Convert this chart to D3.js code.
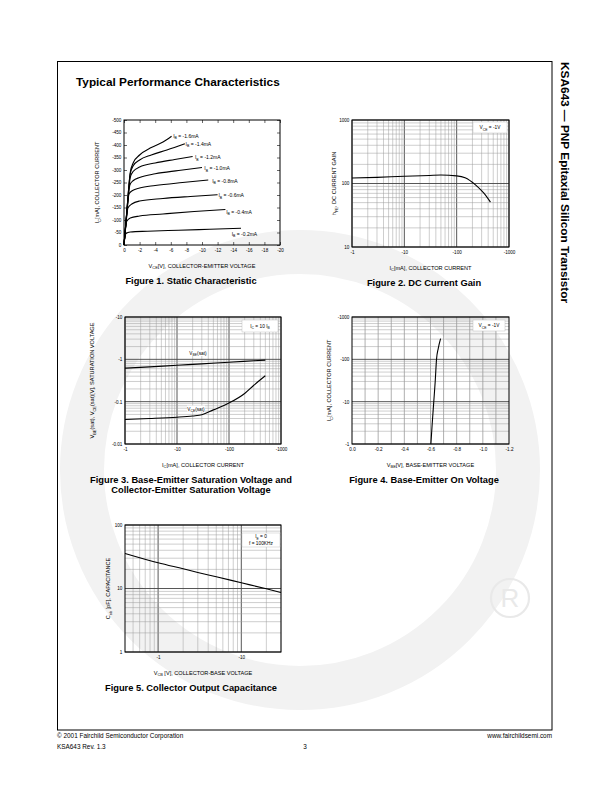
<!DOCTYPE html>
<html><head><meta charset="utf-8">
<script src="https://cdn.jsdelivr.net/npm/d3@7/dist/d3.min.js"></script>
<style>
html,body{margin:0;padding:0;background:#fff;}
svg{display:block;}
</style></head><body>
<svg id="page" width="612" height="792" xmlns="http://www.w3.org/2000/svg"></svg>
<script>
// ================= DATA =================
// Figure 1 - Static Characteristic
const fig1XTicks = [0,-2,-4,-6,-8,-10,-12,-14,-16,-18,-20];
const fig1XLabels = ["0","-2","-4","-6","-8","-10","-12","-14","-16","-18","-20"];
const fig1YTicks = [0,-50,-100,-150,-200,-250,-300,-350,-400,-450,-500];
const fig1YLabels = ["0","-50","-100","-150","-200","-250","-300","-350","-400","-450","-500"];
const fig1IB = ["-1.6","-1.4","-1.2","-1.0","-0.8","-0.6","-0.4","-0.2"];
const fig1Curve16 = [[0,0],[-0.4,-150],[-0.8,-290],[-1.2,-330],[-2,-360],[-3.5,-390],[-5,-412],[-6.1,-435]];
const fig1Curve14 = [[0,0],[-0.4,-150],[-0.8,-285],[-1.2,-318],[-2,-340],[-3.5,-360],[-5.5,-380],[-7.8,-405]];
const fig1Curve12 = [[0,0],[-0.4,-145],[-0.8,-270],[-1.2,-295],[-2,-312],[-4,-328],[-6.5,-342],[-8.8,-354]];
const fig1Curve10 = [[0,0],[-0.4,-140],[-0.75,-240],[-1.2,-258],[-2,-270],[-4,-285],[-7,-298],[-10,-310]];
const fig1Curve08 = [[0,0],[-0.35,-125],[-0.65,-205],[-1.1,-218],[-2,-228],[-4,-238],[-7.5,-250],[-10.8,-260]];
const fig1Curve06 = [[0,0],[-0.3,-100],[-0.5,-148],[-1,-164],[-2,-176],[-5,-186],[-8.5,-194],[-12,-201]];
const fig1Curve04 = [[0,0],[-0.2,-65],[-0.35,-95],[-0.8,-108],[-2,-116],[-5,-124],[-9,-134],[-13,-142]];
const fig1Curve02 = [[0,0],[-0.1,-28],[-0.25,-46],[-0.8,-52],[-3,-55],[-7,-59],[-11,-63],[-15,-67]];
const fig1LabelV = [-6.3,-7.9,-9.1,-10.3,-11.3,-12.1,-13.1,-13.8];
const fig1LabelI = [-437,-403,-350,-306,-257,-198,-131,-44];

// Figure 2 - DC Current Gain
const fig2XTicks = [-1,-10,-100,-1000];
const fig2XLabels = ["-1","-10","-100","-1000"];
const fig2YTicks = [10,100,1000];
const fig2YLabels = ["10","100","1000"];
const fig2IC  = [-1,-3,-10,-30,-50,-100,-145,-226,-328,-442];
const fig2HFE = [122,125,130,134,136,132,123,96,71,51];

// Figure 3 - Saturation voltages
const fig3XTicks = [-1,-10,-100,-1000];
const fig3XLabels = ["-1","-10","-100","-1000"];
const fig3YTicks = [-0.01,-0.1,-1,-10];
const fig3YLabels = ["-0.01","-0.1","-1","-10"];
const fig3ICbe = [-1,-3,-10,-30,-100,-300,-500];
const fig3VBE  = [-0.62,-0.665,-0.725,-0.78,-0.855,-0.925,-0.96];
const fig3ICce = [-1,-3,-10,-20,-30,-50,-100,-200,-300,-500];
const fig3VCE  = [-0.038,-0.040,-0.043,-0.046,-0.049,-0.064,-0.093,-0.156,-0.244,-0.41];

// Figure 4 - Base-Emitter On Voltage
const fig4XTicks = [0,-0.2,-0.4,-0.6,-0.8,-1.0,-1.2];
const fig4XLabels = ["0.0","-0.2","-0.4","-0.6","-0.8","-1.0","-1.2"];
const fig4XGrid = [-0.1,-0.2,-0.3,-0.4,-0.5,-0.6,-0.7,-0.8,-0.9,-1.0,-1.1];
const fig4YTicks = [-1,-10,-100,-1000];
const fig4YLabels = ["-1","-10","-100","-1000"];
const fig4VBE = [-0.603,-0.613,-0.625,-0.636,-0.646,-0.659,-0.677];
const fig4IC  = [-1,-3,-10,-30,-100,-180,-310];

// Figure 5 - Collector Output Capacitance
const fig5XTicks = [-1,-10];
const fig5XLabels = ["-1","-10"];
const fig5YTicks = [1,10,100];
const fig5YLabels = ["1","10","100"];
const fig5VCB = [-0.4,-1,-2,-3,-5,-10,-20,-30];
const fig5COB = [35.7,25.4,20.4,17.9,15.3,12.3,9.9,8.65];

// ================= DRAWING =================
const FONT = '"Liberation Sans", Arial, Helvetica, sans-serif';
const svg = d3.select("#page");

function richText(parent, x, y, str, o = {}) {
  const fs = o.size || 5.5;
  const t = parent.append("text").attr("x", x).attr("y", y)
    .attr("font-size", fs).attr("font-family", FONT)
    .attr("fill", o.fill || "#000")
    .attr("font-weight", o.weight || "normal")
    .attr("text-anchor", o.anchor || "start");
  if (o.rotate) t.attr("transform", `rotate(${o.rotate},${x},${y})`);
  const re = /_\{([^}]*)\}/g;
  let last = 0, m, pend = 0;
  const sh = fs * 0.28;
  while ((m = re.exec(str)) !== null) {
    if (m.index > last) { t.append("tspan").attr("dy", pend).text(str.slice(last, m.index)); pend = 0; }
    t.append("tspan").attr("dy", pend + sh).attr("font-size", fs * 0.7).text(m[1]);
    pend = -sh;
    last = re.lastIndex;
  }
  if (last < str.length) t.append("tspan").attr("dy", pend).text(str.slice(last));
  return t;
}

// log grid values between two magnitudes (sign applied)
function logGrid(lo, hi, sign) {
  const out = [];
  for (let e = Math.floor(Math.log10(lo)) ; e <= Math.ceil(Math.log10(hi)); e++) {
    for (let k = 1; k <= 9; k++) {
      const v = k * Math.pow(10, e);
      if (v >= lo * 0.999 && v <= hi * 1.001) out.push({v: sign * v, major: k === 1});
    }
  }
  return out;
}

// ---------- watermark ----------
const wm = svg.append("g");
wm.append("circle").attr("cx", 300).attr("cy", 470).attr("r", 218)
  .attr("fill", "none").attr("stroke", "#f2f2f2").attr("stroke-width", 44);
wm.append("circle").attr("cx", 510).attr("cy", 598).attr("r", 19)
  .attr("fill", "none").attr("stroke", "#e9e9e9").attr("stroke-width", 2.2);
wm.append("text").attr("x", 510).attr("y", 607).attr("text-anchor", "middle")
  .attr("font-family", FONT).attr("font-size", 26).attr("fill", "#e9e9e9").text("R");

// ---------- page frame ----------
svg.append("rect").attr("x", 57.5).attr("y", 61.5).attr("width", 494.5).attr("height", 668.5)
  .attr("fill", "none").attr("stroke", "#000").attr("stroke-width", 1);
svg.append("text").attr("x", 76).attr("y", 86).attr("font-family", FONT)
  .attr("font-weight", "bold").attr("font-size", 11.8).text("Typical Performance Characteristics");
svg.append("text").attr("x", 561).attr("y", 62).attr("font-family", FONT)
  .attr("font-weight", "bold").attr("font-size", 11.8)
  .attr("transform", "rotate(90,561,62)").text("KSA643 \u2014 PNP Epitaxial Silicon Transistor");
const foot = svg.append("g").attr("font-family", FONT).attr("font-size", 6.4);
foot.append("text").attr("x", 57).attr("y", 738).text("\u00A9 2001 Fairchild Semiconductor Corporation");
foot.append("text").attr("x", 57).attr("y", 748.5).text("KSA643 Rev. 1.3");
foot.append("text").attr("x", 305).attr("y", 748.5).attr("text-anchor", "middle").text("3");
foot.append("text").attr("x", 552).attr("y", 738).attr("text-anchor", "end").text("www.fairchildsemi.com");

// ---------- generic chart ----------
function buildChart(c) {
  const g = svg.append("g");
  const drawLines = (vals, vertical, color, w) => g.append("g").selectAll("line").data(vals).join("line")
    .attr("x1", d => vertical ? c.x(d) : c.l).attr("x2", d => vertical ? c.x(d) : c.r)
    .attr("y1", d => vertical ? c.t : c.y(d)).attr("y2", d => vertical ? c.b : c.y(d))
    .attr("stroke", color).attr("stroke-width", w);
  if (c.xGrid) {
    drawLines(c.xGrid.filter(d => !d.major).map(d => d.v), true, "#9c9c9c", 0.5);
    drawLines(c.xGrid.filter(d => d.major).map(d => d.v), true, "#444", 0.9);
  }
  if (c.xLinGrid) drawLines(c.xLinGrid, true, "#7a7a7a", 0.6);
  if (c.yGrid) {
    drawLines(c.yGrid.filter(d => !d.major).map(d => d.v), false, "#9c9c9c", 0.5);
    drawLines(c.yGrid.filter(d => d.major).map(d => d.v), false, "#444", 0.9);
  }
  const styleAxis = a => {
    a.select(".domain").remove();
    a.selectAll("text").attr("font-size", 4.6).attr("font-family", FONT).attr("fill", "#000");
    a.selectAll("line").attr("stroke", "#000").attr("stroke-width", 0.6);
  };
  const ts = c.inner ? -3 : 0;
  g.append("g").attr("transform", `translate(0,${c.b})`)
    .call(d3.axisBottom(c.x).tickValues(c.xTicks).tickFormat((d, i) => c.xLabels[i]).tickSize(ts).tickPadding(3.3))
    .call(styleAxis);
  g.append("g").attr("transform", `translate(${c.l},0)`)
    .call(d3.axisLeft(c.y).tickValues(c.yTicks).tickFormat((d, i) => c.yLabels[i]).tickSize(ts).tickPadding(2.6))
    .call(styleAxis);
  if (c.inner) {
    g.append("g").attr("transform", `translate(0,${c.t})`)
      .call(d3.axisTop(c.x).tickValues(c.xTicks).tickFormat("").tickSize(ts)).call(styleAxis);
    g.append("g").attr("transform", `translate(${c.r},0)`)
      .call(d3.axisRight(c.y).tickValues(c.yTicks).tickFormat("").tickSize(ts)).call(styleAxis);
  }
  g.append("rect").attr("x", c.l).attr("y", c.t).attr("width", c.r - c.l).attr("height", c.b - c.t)
    .attr("fill", "none").attr("stroke", "#000").attr("stroke-width", 1);
  // axis titles
  richText(g, (c.l + c.r) / 2, c.b + 22.5, c.xTitle, {size: 5.6, anchor: "middle"});
  richText(g, c.yTitleX, (c.t + c.b) / 2, c.yTitle, {size: 5.6, anchor: "middle", rotate: -90});
  // caption
  c.caption.forEach((line, i) => {
    g.append("text").attr("x", c.capX).attr("y", c.b + 39 + i * 10.2).attr("text-anchor", "middle")
      .attr("font-family", FONT).attr("font-weight", "bold").attr("font-size", 9.3).text(line);
  });
  return g;
}

function legendBox(g, x0, y0, x1, y1, lines, size) {
  g.append("rect").attr("x", x0).attr("y", y0).attr("width", x1 - x0).attr("height", y1 - y0)
    .attr("fill", "#fff").attr("stroke", "#b5b5b5").attr("stroke-width", 0.4);
  const lh = (y1 - y0) / lines.length;
  lines.forEach((s, i) => richText(g, (x0 + x1) / 2, y0 + lh * (i + 0.5) + size * 0.35, s, {size: size, anchor: "middle"}));
}

const lineGen = (x, y) => d3.line().x(d => x(d[0])).y(d => y(d[1])).curve(d3.curveMonotoneX);
const drawCurve = (g, pts, x, y) => g.append("path").attr("d", lineGen(x, y)(pts))
  .attr("fill", "none").attr("stroke", "#000").attr("stroke-width", 1.1);

// ---------- Figure 1 ----------
{
  const c = {l: 124, r: 280, t: 120, b: 245};
  c.x = d3.scaleLinear().domain([0, -20]).range([c.l, c.r]);
  c.y = d3.scaleLinear().domain([0, -500]).range([c.b, c.t]);
  Object.assign(c, {xTicks: fig1XTicks, xLabels: fig1XLabels, yTicks: fig1YTicks, yLabels: fig1YLabels,
    inner: true, xTitle: "V_{CE}[V], COLLECTOR-EMITTER VOLTAGE", yTitle: "I_{C}[mA], COLLECTOR CURRENT",
    yTitleX: 99, caption: ["Figure 1. Static Characteristic"], capX: 191});
  const g = buildChart(c);
  [fig1Curve16, fig1Curve14, fig1Curve12, fig1Curve10, fig1Curve08, fig1Curve06, fig1Curve04, fig1Curve02]
    .forEach(pts => drawCurve(g, pts, c.x, c.y));
  fig1IB.forEach((ib, i) => richText(g, c.x(fig1LabelV[i]), c.y(fig1LabelI[i]) + 1.8,
    "I_{B} = " + ib + "mA", {size: 5.0}));
}

// ---------- Figure 2 ----------
{
  const c = {l: 352, r: 509, t: 120, b: 247};
  c.x = d3.scaleLog().domain([-1, -1000]).range([c.l, c.r]);
  c.y = d3.scaleLog().domain([10, 1000]).range([c.b, c.t]);
  Object.assign(c, {xTicks: fig2XTicks, xLabels: fig2XLabels, yTicks: fig2YTicks, yLabels: fig2YLabels,
    xGrid: logGrid(1, 1000, -1), yGrid: logGrid(10, 1000, 1),
    xTitle: "I_{C}[mA], COLLECTOR CURRENT", yTitle: "h_{FE}, DC CURRENT GAIN",
    yTitleX: 336, caption: ["Figure 2. DC Current Gain"], capX: 424});
  const g = buildChart(c);
  drawCurve(g, fig2IC.map((v, i) => [v, fig2HFE[i]]), c.x, c.y);
  legendBox(g, 473, 122, 507, 133, ["V_{CE} = -1V"], 4.8);
}

// ---------- Figure 3 ----------
{
  const c = {l: 125, r: 281, t: 317, b: 444};
  c.x = d3.scaleLog().domain([-1, -1000]).range([c.l, c.r]);
  c.y = d3.scaleLog().domain([-0.01, -10]).range([c.b, c.t]);
  Object.assign(c, {xTicks: fig3XTicks, xLabels: fig3XLabels, yTicks: fig3YTicks, yLabels: fig3YLabels,
    xGrid: logGrid(1, 1000, -1), yGrid: logGrid(0.01, 10, -1),
    xTitle: "I_{C}[mA], COLLECTOR CURRENT", yTitle: "V_{BE}(sat), V_{CE}(sat)[V], SATURATION VOLTAGE",
    yTitleX: 94, caption: ["Figure 3. Base-Emitter Saturation Voltage and", "Collector-Emitter Saturation Voltage"], capX: 191});
  const g = buildChart(c);
  drawCurve(g, fig3ICbe.map((v, i) => [v, fig3VBE[i]]), c.x, c.y);
  drawCurve(g, fig3ICce.map((v, i) => [v, fig3VCE[i]]), c.x, c.y);
  legendBox(g, 242, 320, 278, 332, ["I_{C} = 10 I_{B}"], 4.8);
  g.append("rect").attr("x", 189).attr("y", 350).attr("width", 18).attr("height", 6).attr("fill", "#fff");
  richText(g, 198, 355, "V_{BE}(sat)", {size: 4.8, anchor: "middle"});
  g.append("rect").attr("x", 187).attr("y", 405.5).attr("width", 18).attr("height", 6).attr("fill", "#fff");
  richText(g, 196, 410.5, "V_{CE}(sat)", {size: 4.8, anchor: "middle"});
}

// ---------- Figure 4 ----------
{
  const c = {l: 352, r: 509, t: 317, b: 444};
  c.x = d3.scaleLinear().domain([0, -1.2]).range([c.l, c.r]);
  c.y = d3.scaleLog().domain([-1, -1000]).range([c.b, c.t]);
  Object.assign(c, {xTicks: fig4XTicks, xLabels: fig4XLabels, yTicks: fig4YTicks, yLabels: fig4YLabels,
    xLinGrid: fig4XGrid, yGrid: logGrid(1, 1000, -1),
    xTitle: "V_{BE}[V], BASE-EMITTER VOLTAGE", yTitle: "I_{C}[mA], COLLECTOR CURRENT",
    yTitleX: 331, caption: ["Figure 4. Base-Emitter On Voltage"], capX: 424});
  const g = buildChart(c);
  drawCurve(g, fig4VBE.map((v, i) => [v, fig4IC[i]]), c.x, c.y);
  legendBox(g, 473, 320, 505, 331, ["V_{CE} = -1V"], 4.8);
}

// ---------- Figure 5 ----------
{
  const c = {l: 125, r: 281, t: 525, b: 652};
  c.x = d3.scaleLog().domain([-0.4, -30]).range([c.l, c.r]);
  c.y = d3.scaleLog().domain([1, 100]).range([c.b, c.t]);
  Object.assign(c, {xTicks: fig5XTicks, xLabels: fig5XLabels, yTicks: fig5YTicks, yLabels: fig5YLabels,
    xGrid: logGrid(0.5, 30, -1).concat([]), yGrid: logGrid(1, 100, 1),
    xTitle: "V_{CB} [V], COLLECTOR-BASE VOLTAGE", yTitle: "C_{ob} [pF], CAPACITANCE",
    yTitleX: 110, caption: ["Figure 5. Collector Output Capacitance"], capX: 191});
  const g = buildChart(c);
  drawCurve(g, fig5VCB.map((v, i) => [v, fig5COB[i]]), c.x, c.y);
  legendBox(g, 242, 533, 280, 547, ["I_{E} = 0", "f = 100KHz"], 4.8);
}
</script>
</body></html>
